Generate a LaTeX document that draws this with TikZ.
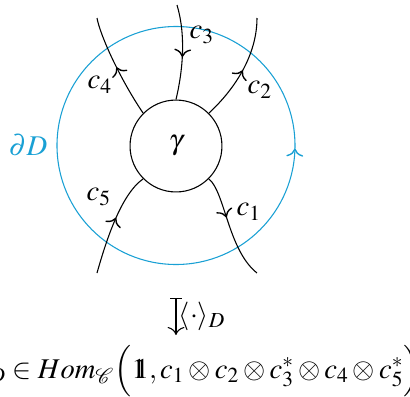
\documentclass[tikz,border=0pt,12pt]{standalone}
\usepackage{mathptmx}
\usepackage{mathrsfs}
\usetikzlibrary{decorations.markings, arrows.meta}

\definecolor{bndblue}{RGB}{25,160,212}
\newcommand{\unitobj}{\mathrm{1}\mkern-7mu\mathrm{1}}

\tikzset{
  strand/.style={line width=0.45pt},
  midarrow/.style={postaction={decorate},
    decoration={markings, mark=at position #1 with {\arrow[scale=1.3]{>}}}},
  bnd/.style={bndblue, line width=0.45pt},
  mapsto/.style={{Bar[width=5pt]}-{To[scale=1.3]}, line width=0.45pt},
}

\begin{document}
\begin{tikzpicture}[x=0.42pt, y=0.42pt]
    \useasboundingbox (0,0) rectangle (410,397);

    % Define the end points of the strands
    \coordinate (T3) at (177,392);
    \coordinate (T4) at (97,379);
    \coordinate (T2) at (257,379);
    \coordinate (T1) at (257,124);
    \coordinate (T5) at (97,124);

    % Draw the coupon
    \node[draw, circle, strand, minimum size=38.6pt, inner sep=0pt] (g) at (176,251) {$\gamma$};

    % Draw the boundary of the disk
    \draw[bnd, midarrow=0.996] (176,251.5) circle[radius=119];
    \node[text=bndblue] (dD) at (28,252) {$\partial D$};

    % Draw the strands
    \draw[strand, midarrow=0.55] (T3) .. controls (186,362) and (183,327) .. (g.90);
    \draw[strand, midarrow=0.5] (g.135) .. controls (120,318) and (100,362) .. (T4);
    \draw[strand, midarrow=0.5] (g.45) .. controls (235,308) and (257,342) .. (T2);
    \draw[strand, midarrow=0.4] (g.-45) .. controls (225,205) and (228,147) .. (T1);
    \draw[strand, midarrow=0.55] (T5) .. controls (105,152) and (120,202) .. (g.-135);

    % Place the labels of the strands
    \node (l3) at (202,362) {$c_3$};
    \node (l4) at (100,312) {$c_4$};
    \node (l2) at (260,307) {$c_2$};
    \node (l5) at (99,200) {$c_5$};
    \node (l1) at (249,185) {$c_1$};

    % Evaluation
    \coordinate (M1) at (176,99);
    \coordinate (M2) at (176,62);
    \draw[mapsto] (M1) -- (M2) node[midway, right, inner sep=1pt] {$\langle\cdot\rangle_D$};
    \node[anchor=base] (hom) at (187,19) {$\langle\gamma\rangle_D \in Hom_{\mathscr{C}}\Big(\unitobj, c_1\otimes c_2\otimes c_3^*\otimes c_4\otimes c_5^*\Big)$};

\end{tikzpicture}
\end{document}
